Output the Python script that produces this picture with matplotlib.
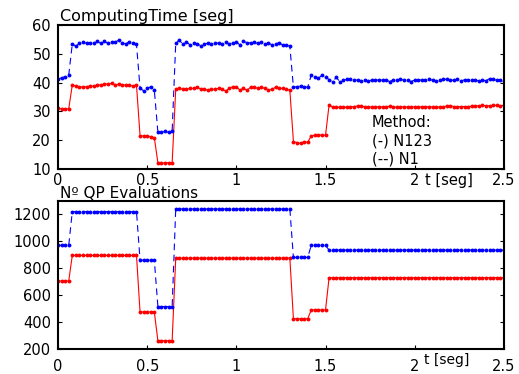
import numpy as np
import matplotlib
matplotlib.use('Agg')
import matplotlib.pyplot as plt
from matplotlib.transforms import blended_transform_factory

plt.rcParams['font.family'] = ['DejaVu Sans']

# time axis, one sample every 0.02 s
t = np.round(np.arange(126) * 0.02, 2)

# computing time [seg], method N1 (dashed, blue)
time_n1 = [41.2, 41.7, 42.0, 42.6,
           53.4, 52.7, 53.6, 54.1, 53.6, 53.8, 53.6, 54.3, 53.6, 54.4,
           53.6, 54.0, 54.1, 54.7, 53.8, 53.5, 54.2, 53.6, 53.3,
           38.0, 37.2, 38.0, 38.6, 37.4,
           22.8, 22.7, 23.1, 22.7, 23.3,
           53.6, 54.8, 53.3, 54.2, 53.1, 53.9, 53.5, 52.8, 53.5, 53.6,
           53.5, 53.9, 53.6, 53.5, 54.0, 53.4, 53.9, 54.1, 53.1, 54.3,
           53.9, 53.8, 54.0, 53.6, 54.1, 53.4, 53.6, 53.2, 53.5, 53.8,
           53.1, 53.2, 52.6,
           38.4, 38.6, 38.8, 38.6, 38.4,
           42.6, 42.1, 41.5, 42.6, 42.1,
           41.0, 40.3, 41.8, 40.4, 40.9, 41.1, 41.2, 40.9, 40.9, 40.7,
           40.9, 40.5, 41.0, 40.9, 40.9, 40.9, 40.8, 40.4, 40.9, 40.9,
           41.1, 40.9, 40.9, 40.4, 40.9, 41.0, 40.9, 40.8, 41.1, 40.9,
           40.6, 40.9, 41.1, 41.2, 40.8, 40.9, 41.1, 40.6, 41.0, 40.9,
           40.8, 41.0, 40.5, 40.9, 40.7, 41.4, 41.2, 40.8, 41.0, 40.6]

# computing time [seg], method N123 (solid, red)
time_n123 = [31.1, 30.9, 30.9, 30.9,
             39.2, 38.8, 38.6, 38.4, 38.6, 38.8, 38.8, 39.2, 39.2, 39.5,
             39.5, 39.8, 39.2, 39.5, 39.2, 39.2, 39.2, 38.8, 39.2,
             21.5, 21.5, 21.5, 21.2, 20.9,
             12.2, 12.0, 12.2, 12.2, 12.1,
             37.7, 38.0, 37.7, 37.7, 38.0, 38.0, 38.4, 37.7, 37.7, 37.4,
             37.7, 37.7, 38.0, 37.7, 37.1, 38.0, 38.6, 38.6, 37.4, 38.0,
             37.4, 38.4, 38.4, 38.0, 38.4, 38.0, 37.4, 37.7, 38.4, 38.0,
             38.0, 37.7, 37.4,
             19.5, 19.2, 18.9, 19.5, 19.3,
             21.5, 21.8, 21.8, 21.8, 21.7,
             32.3, 31.5, 31.5, 31.4, 31.4, 31.5, 31.6, 31.7, 31.9, 32.0,
             31.5, 31.6, 31.5, 31.6, 31.7, 31.5, 31.6, 31.8, 31.6, 31.4,
             31.5, 31.7, 31.5, 31.6, 31.6, 31.5, 31.6, 31.7, 31.6, 31.6,
             31.6, 31.5, 31.6, 31.9, 32.0, 31.7, 31.7, 31.6, 31.7, 31.7,
             31.8, 31.8, 32.0, 32.1, 32.0, 32.0, 32.1, 32.1, 32.0, 32.1]

# number of QP evaluations, method N1
qp_n1 = [970, 970, 970, 970,
         1220, 1220, 1220, 1220, 1220, 1220, 1220, 1220, 1220, 1220,
         1220, 1220, 1220, 1220, 1220, 1220, 1220, 1220, 1220,
         860, 860, 860, 860, 860,
         515, 515, 515, 515, 515,
         1240, 1240, 1240, 1240, 1240, 1240, 1240, 1240, 1240, 1240,
         1240, 1240, 1240, 1240, 1240, 1240, 1240, 1240, 1240, 1240,
         1240, 1240, 1240, 1240, 1240, 1240, 1240, 1240, 1240, 1240,
         1240, 1240, 1240,
         880, 880, 880, 880, 880,
         970, 970, 970, 970, 970,
         935, 935, 935, 935, 935, 935, 935, 935, 935, 935,
         935, 935, 935, 935, 935, 935, 935, 935, 935, 935,
         935, 935, 935, 935, 935, 935, 935, 935, 935, 935,
         935, 935, 935, 935, 935, 935, 935, 935, 935, 935,
         935, 935, 935, 935, 935, 935, 935, 935, 935, 935]

# number of QP evaluations, method N123
qp_n123 = [705, 705, 705, 705,
           895, 895, 895, 895, 895, 895, 895, 895, 895, 895,
           895, 895, 895, 895, 895, 895, 895, 895, 895,
           475, 475, 475, 475, 475,
           262, 262, 262, 262, 262,
           875, 875, 875, 875, 875, 875, 875, 875, 875, 875,
           875, 875, 875, 875, 875, 875, 875, 875, 875, 875,
           875, 875, 875, 875, 875, 875, 875, 875, 875, 875,
           875, 875, 875,
           425, 425, 425, 425, 425,
           490, 490, 490, 490, 490,
           730, 730, 730, 730, 730, 730, 730, 730, 730, 730,
           730, 730, 730, 730, 730, 730, 730, 730, 730, 730,
           730, 730, 730, 730, 730, 730, 730, 730, 730, 730,
           730, 730, 730, 730, 730, 730, 730, 730, 730, 730,
           730, 730, 730, 730, 730, 730, 730, 730, 730, 730]

x_ticks = [0, 0.5, 1, 1.5, 2, 2.5]
x_labels = ['0', '0.5', '1', '1.5', '2', '2.5']

fig = plt.figure(figsize=(5.19, 3.74), dpi=100)
ax1 = fig.add_axes([0.1118, 0.548, 0.859, 0.385])
ax2 = fig.add_axes([0.1118, 0.0668, 0.859, 0.396])

def style(ax, xpad):
    for s in ax.spines.values():
        s.set_linewidth(1.5)
    ax.tick_params(direction='in', length=3, width=0.8, right=True,
                   labelsize=10.5, pad=5)
    ax.tick_params(axis='x', pad=xpad)
    ax.set_xlim(0, 2.5)
    ax.set_xticks(x_ticks)
    ax.set_xticklabels(x_labels)

def draw(ax, y_n1, y_n123):
    ax.plot(t, y_n123, '-', color='red', lw=0.8, marker='o', ms=2.8, mew=0)
    ax.plot(t, y_n1, color='blue', lw=0.8, dashes=(6, 4), marker='o', ms=2.8, mew=0)

draw(ax1, time_n1, time_n123)
style(ax1, 3)
ax1.set_ylim(10, 60)
ax1.set_yticks([10, 20, 30, 40, 50, 60])
ax1.text(0.005, 1.005, 'ComputingTime [seg]', transform=ax1.transAxes,
         fontsize=11.5, ha='left', va='bottom')
ax1.text(0.704, 0.375, 'Method:\n(-) N123\n(--) N1', transform=ax1.transAxes,
         fontsize=10.5, ha='left', va='top', linespacing=1.25)
tr1 = blended_transform_factory(ax1.transData, ax1.transAxes)
ax1.text(2.06, -0.025, 't [seg]', transform=tr1, fontsize=10.5, ha='left', va='top')

draw(ax2, qp_n1, qp_n123)
style(ax2, 7)
ax2.set_ylim(200, 1300)
ax2.set_yticks([200, 400, 600, 800, 1000, 1200])
ax2.text(0.005, 1.0, 'Nº QP Evaluations', transform=ax2.transAxes,
         fontsize=11, ha='left', va='bottom')
tr2 = blended_transform_factory(ax2.transData, ax2.transAxes)
ax2.text(2.05, -0.03, 't [seg]', transform=tr2, fontsize=10, ha='left', va='top')

fig.savefig('out.png', dpi=100)
